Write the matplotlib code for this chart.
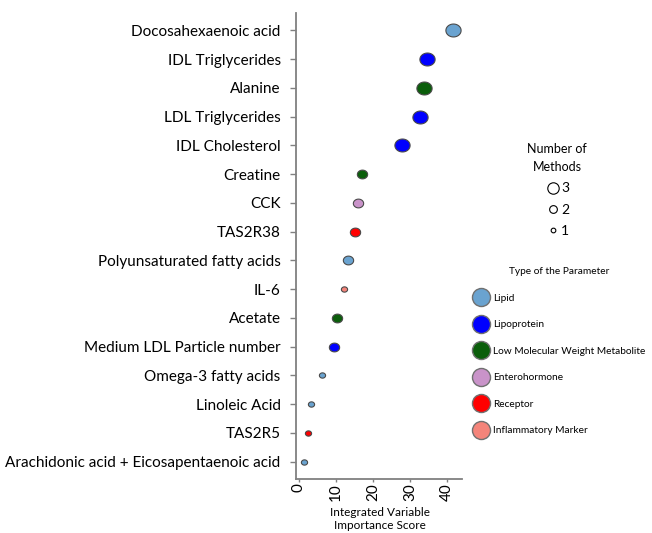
import matplotlib
matplotlib.use("Agg")
import matplotlib.pyplot as plt
from matplotlib.lines import Line2D
import numpy as np

variables = ["Docosahexaenoic acid", "IDL Triglycerides", "Alanine", "LDL Triglycerides",
             "IDL Cholesterol", "Creatine", "CCK", "TAS2R38", "Polyunsaturated fatty acids",
             "IL-6", "Acetate", "Medium LDL Particle number", "Omega-3 fatty acids",
             "Linoleic Acid", "TAS2R5", "Arachidonic acid + Eicosapentaenoic acid"]
scores = [41.6, 34.6, 33.7, 32.8, 27.9, 17.2, 16.1, 15.3, 13.3, 12.3, 10.3, 9.4, 6.4, 3.4, 2.5, 1.5]
n_methods = [3, 3, 3, 3, 3, 2, 2, 2, 2, 1, 2, 2, 1, 1, 1, 1]
param_type = ["Lipid", "Lipoprotein", "Low Molecular Weight Metabolite", "Lipoprotein",
              "Lipoprotein", "Low Molecular Weight Metabolite", "Enterohormone", "Receptor",
              "Lipid", "Inflammatory Marker", "Low Molecular Weight Metabolite", "Lipoprotein",
              "Lipid", "Lipid", "Receptor", "Lipid"]
type_names = ["Lipid", "Lipoprotein", "Low Molecular Weight Metabolite", "Enterohormone",
              "Receptor", "Inflammatory Marker"]
type_colors = ["#6aa3d0", "#0000ff", "#0b5e0b", "#c993c9", "#ff0000", "#f4847a"]
x_ticks = [0, 10, 20, 30, 40]

color_map = dict(zip(type_names, type_colors))
size_map = {1: 20, 2: 55, 3: 120}

plt.rcParams['font.family'] = ['Lato', 'DejaVu Sans']

fig = plt.figure(figsize=(6.52, 5.33), dpi=100)
ax = fig.add_axes([296/652, 1 - 479/533, (462-296)/652, (479-13)/533])

# ellipse marker (wider than tall)
t = np.linspace(0, 2*np.pi, 60)
ell = np.column_stack([np.cos(t), 0.85*np.sin(t)])

ypos = np.arange(len(variables))[::-1]
for y, x, n, tp in zip(ypos, scores, n_methods, param_type):
    ax.scatter(x, y, s=size_map[n], marker=ell, color=color_map[tp],
               edgecolor="#4a4a4a", linewidth=0.8, zorder=3)

ax.set_ylim(-0.6, len(variables) - 0.4)
ax.set_xlim(-0.7, 44.0)
ax.set_yticks(ypos)
ax.set_yticklabels(variables, fontsize=11)
ax.set_xticks(x_ticks)
ax.set_xticklabels([str(v) for v in x_ticks], fontsize=11, rotation=90)
for s in ["top", "right"]:
    ax.spines[s].set_visible(False)
for s in ["left", "bottom"]:
    ax.spines[s].set_color("#808080")
    ax.spines[s].set_linewidth(1.3)
ax.tick_params(axis="both", length=4, color="#808080", width=1)
ax.tick_params(axis="y", pad=7)
ax.tick_params(axis="x", pad=1, length=2)

fig.text(380/652, 1 - 519/533, "Integrated Variable\nImportance Score", ha="center", va="center",
         fontsize=8.5, linespacing=1.25)

# size legend
size_handles = [Line2D([], [], linestyle="none", marker="o", markerfacecolor="white",
                       markeredgecolor="black", markeredgewidth=0.8,
                       markersize=np.sqrt(size_map[n]) * 0.75, label=str(n)) for n in [3, 2, 1]]
leg1 = fig.legend(handles=size_handles, title="Number of\nMethods", loc="center",
                  bbox_to_anchor=(557/652, 1 - 190/533), frameon=False, fontsize=10,
                  title_fontsize=9, handletextpad=0.0, labelspacing=0.65, handlelength=1.2)
leg1.get_title().set_multialignment("center")
leg1.get_title().set_linespacing(1.6)

type_handles = [Line2D([], [], linestyle="none", marker="o", markerfacecolor=c,
                       markeredgecolor="#707070", markeredgewidth=1.0, markersize=13, label=nm)
                for nm, c in zip(type_names, type_colors)]
leg2 = fig.legend(handles=type_handles, title="Type of the Parameter", loc="upper left",
                  bbox_to_anchor=(465/652, 1 - 259/533), frameon=False, fontsize=7.3,
                  title_fontsize=7.3, handletextpad=0.5, labelspacing=1.72, handlelength=1.5,
                  alignment="center", borderpad=0.3)

fig.savefig("out.png", dpi=100)
